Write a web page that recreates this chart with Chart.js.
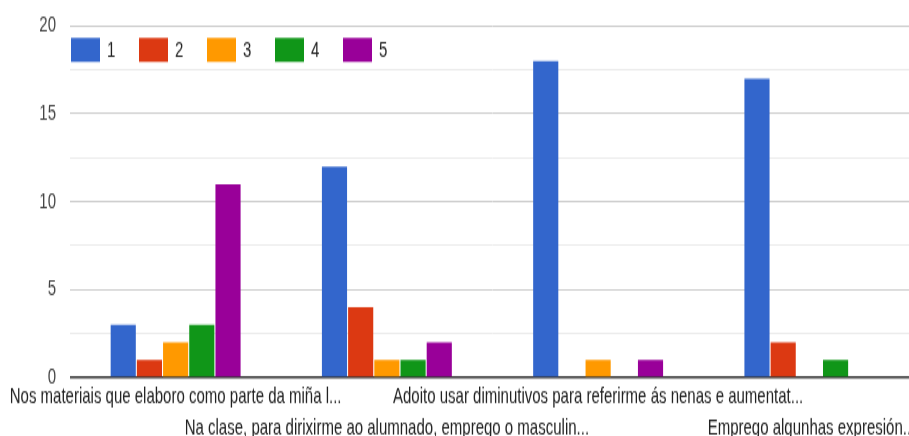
<!DOCTYPE html>
<html>
<head>
<meta charset="utf-8">
<script src="https://cdn.jsdelivr.net/npm/chart.js@4.4.1/dist/chart.umd.min.js"></script>
<style>
  html { margin: 0; padding: 0; background: #fff; overflow: hidden; }
  body { margin: 0; padding: 0; width: 909px; height: 436px; overflow: visible; }
  /* the original picture is stretched vertically and cut off a bit on the right */
  #wrap { width: 915px; height: 291px; transform: scale(1, 1.4983); transform-origin: 0 0; }
</style>
</head>
<body>
<div id="wrap"><canvas id="chart" width="915" height="291"></canvas></div>
<script>
// data
var categories = [
    'Nos materiais que elaboro como parte da miña l...',
    'Na clase, para dirixirme ao alumnado, emprego o masculin...',
    'Adoito usar diminutivos para referirme ás nenas e aumentat...',
    'Emprego algunhas expresión..'
];
var seriesNames = ['1', '2', '3', '4', '5'];
var seriesColors = ['#3366cc', '#dc3912', '#ff9900', '#109618', '#990099'];
var values1 = [3, 12, 18, 17];
var values2 = [1, 4, 0, 2];
var values3 = [2, 1, 1, 0];
var values4 = [3, 1, 0, 1];
var values5 = [11, 2, 1, 0];
var yTicks = [0, 5, 10, 15, 20];

var allValues = [values1, values2, values3, values4, values5];
var FONT = 'Liberation Sans, Arial, sans-serif';

// legend drawn inside the plot area, like the original
var insideLegend = {
    id: 'insideLegend',
    afterDraw: function(chart) {
        var c = chart.ctx, a = chart.chartArea;
        c.save();
        c.font = '15px ' + FONT;
        c.textBaseline = 'middle';
        chart.data.datasets.forEach(function(ds, i) {
            var x = a.left + 1 + i * 68;
            var y = a.top + 8;
            c.fillStyle = ds.backgroundColor;
            c.fillRect(x, y, 29, 16);
            c.fillStyle = '#222';
            c.fillText(ds.label, x + 36, y + 8.5);
        });
        c.restore();
    }
};

new Chart(document.getElementById('chart'), {
    type: 'bar',
    data: {
        labels: categories,
        datasets: seriesNames.map(function(name, i) {
            return {
                label: name,
                data: allValues[i],
                backgroundColor: seriesColors[i],
                borderWidth: 0,
                categoryPercentage: 0.62,
                barPercentage: 0.96
            };
        })
    },
    options: {
        responsive: false,
        animation: false,
        layout: { padding: { top: 17.3, left: 0, right: 0, bottom: 0 } },
        plugins: { legend: { display: false }, tooltip: { enabled: false } },
        scales: {
            x: {
                grid: { display: false, drawTicks: false },
                border: { display: false },
                ticks: {
                    autoSkip: false,
                    maxRotation: 0,
                    minRotation: 0,
                    padding: 3,
                    color: '#222',
                    font: { family: FONT, size: 15, lineHeight: 1.36 },
                    callback: function(v, i) {
                        var t = categories[i];
                        return i % 2 === 0 ? [t, ''] : ['', t];
                    }
                },
                afterFit: function(s) {
                    s.height = 39;
                    s.paddingLeft = 0;
                    s.paddingRight = 0;
                }
            },
            y: {
                min: 0,
                max: 20,
                border: { display: false },
                grid: {
                    drawTicks: false,
                    color: function(ctx) {
                        var v = ctx.tick.value;
                        if (v === 0) return '#333';
                        return yTicks.indexOf(v) >= 0 ? '#cccccc' : '#ebebeb';
                    },
                    lineWidth: function(ctx) { return ctx.tick.value === 0 ? 1.4 : 1; }
                },
                ticks: {
                    stepSize: 2.5,
                    padding: 14,
                    color: '#444',
                    font: { family: FONT, size: 15 },
                    callback: function(v) { return yTicks.indexOf(v) >= 0 ? String(v) : ''; }
                },
                afterFit: function(s) {
                    s.width = 70;
                    s.paddingTop = 0;
                    s.paddingBottom = 0;
                }
            }
        }
    },
    plugins: [insideLegend]
});
</script>
</body>
</html>
